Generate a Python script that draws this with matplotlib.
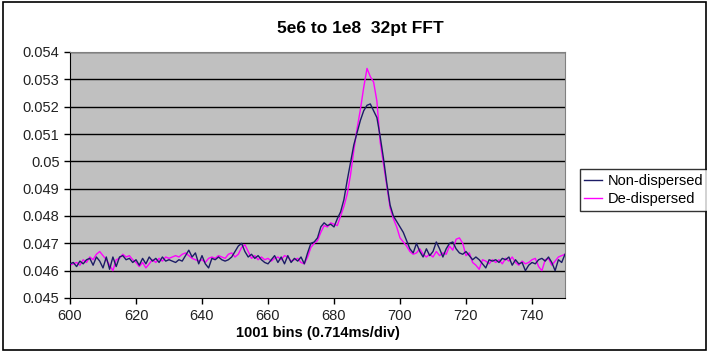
import matplotlib.pyplot as plt
from matplotlib.patches import Rectangle

plt.rcParams['font.family'] = ['Liberation Sans', 'DejaVu Sans']

bins = list(range(600, 751))

non_dispersed = [
    0.04625, 0.04630, 0.04615, 0.04635, 0.04625, 0.04640, 0.04645, 0.04620, 0.04650, 0.04635,
    0.04610, 0.04650, 0.04605, 0.04650, 0.04615, 0.04650, 0.04655, 0.04640, 0.04645, 0.04630,
    0.04640, 0.04620, 0.04645, 0.04625, 0.04650, 0.04635, 0.04645, 0.04630, 0.04650, 0.04635,
    0.04640, 0.04635, 0.04630, 0.04640, 0.04635, 0.04655, 0.04675, 0.04650, 0.04665, 0.04625,
    0.04655, 0.04625, 0.04610, 0.04645, 0.04640, 0.04650, 0.04640, 0.04635, 0.04640, 0.04650,
    0.04670, 0.04690, 0.04700, 0.04670, 0.04650, 0.04660, 0.04645, 0.04655, 0.04640, 0.04630,
    0.04625, 0.04640, 0.04655, 0.04630, 0.04650, 0.04625, 0.04655, 0.04630, 0.04645, 0.04635,
    0.04650, 0.04625, 0.04665, 0.04700, 0.04705, 0.04720, 0.04760, 0.04775, 0.04765, 0.04770,
    0.04760, 0.04790, 0.04815, 0.04860, 0.04930, 0.04995, 0.05060, 0.05105, 0.05150, 0.05185,
    0.05205, 0.05210, 0.05185, 0.05160, 0.05090, 0.05010, 0.04920, 0.04840, 0.04800, 0.04780,
    0.04760, 0.04740, 0.04710, 0.04680, 0.04665, 0.04700, 0.04670, 0.04650, 0.04680, 0.04655,
    0.04670, 0.04705, 0.04680, 0.04650, 0.04680, 0.04700, 0.04705, 0.04680, 0.04665, 0.04660,
    0.04670, 0.04655, 0.04640, 0.04650, 0.04640, 0.04625, 0.04610, 0.04640, 0.04635, 0.04640,
    0.04630, 0.04645, 0.04640, 0.04650, 0.04620, 0.04640, 0.04625, 0.04630, 0.04600, 0.04620,
    0.04630, 0.04625, 0.04640, 0.04645, 0.04635, 0.04650, 0.04630, 0.04600, 0.04640, 0.04630,
    0.04660,
]

de_dispersed = [
    0.04620, 0.04625, 0.04630, 0.04620, 0.04640, 0.04630, 0.04650, 0.04640, 0.04660, 0.04670,
    0.04655, 0.04640, 0.04620, 0.04600, 0.04640, 0.04645, 0.04660, 0.04650, 0.04655, 0.04640,
    0.04630, 0.04615, 0.04630, 0.04610, 0.04625, 0.04640, 0.04630, 0.04645, 0.04635, 0.04650,
    0.04645, 0.04650, 0.04655, 0.04650, 0.04660, 0.04665, 0.04655, 0.04645, 0.04640, 0.04635,
    0.04640, 0.04630, 0.04645, 0.04650, 0.04645, 0.04655, 0.04650, 0.04645, 0.04660, 0.04665,
    0.04650, 0.04660, 0.04685, 0.04695, 0.04670, 0.04645, 0.04655, 0.04640, 0.04650, 0.04640,
    0.04645, 0.04635, 0.04645, 0.04650, 0.04640, 0.04655, 0.04650, 0.04635, 0.04640, 0.04645,
    0.04630, 0.04625, 0.04650, 0.04685, 0.04700, 0.04710, 0.04740, 0.04765, 0.04760, 0.04775,
    0.04770, 0.04765, 0.04800, 0.04835, 0.04880, 0.04950, 0.05040, 0.05120, 0.05190, 0.05270,
    0.05340, 0.05310, 0.05290, 0.05220, 0.05070, 0.04990, 0.04910, 0.04830, 0.04790, 0.04760,
    0.04720, 0.04705, 0.04690, 0.04670, 0.04660, 0.04665, 0.04680, 0.04660, 0.04650, 0.04660,
    0.04650, 0.04670, 0.04655, 0.04665, 0.04660, 0.04690, 0.04675, 0.04715, 0.04720, 0.04700,
    0.04655, 0.04665, 0.04630, 0.04620, 0.04605, 0.04640, 0.04635, 0.04625, 0.04640, 0.04630,
    0.04640, 0.04625, 0.04645, 0.04635, 0.04650, 0.04630, 0.04620, 0.04635, 0.04625, 0.04630,
    0.04640, 0.04645, 0.04615, 0.04600, 0.04640, 0.04645, 0.04620, 0.04635, 0.04650, 0.04655,
    0.04660,
]

y_ticks = [0.045, 0.046, 0.047, 0.048, 0.049, 0.05, 0.051, 0.052, 0.053, 0.054]
x_ticks = [600, 620, 640, 660, 680, 700, 720, 740]

fig = plt.figure(figsize=(7.07, 3.54), dpi=100)
fig.patch.set_facecolor('white')
ax = fig.add_axes([70 / 707, 56 / 354, 495 / 707, 246 / 354])
ax.set_facecolor('#c0c0c0')

# horizontal gridlines, Excel style
for v in y_ticks[1:]:
    ax.axhline(v, color='black', lw=1.0, zorder=1)

ax.plot(bins, non_dispersed, color='#1c1c66', lw=1.0, label='Non-dispersed', zorder=3)
ax.plot(bins, de_dispersed, color='#ff00ff', lw=1.0, label='De-dispersed', zorder=2)

ax.set_xlim(600, 750)
ax.set_ylim(0.045, 0.054)
ax.set_xticks(x_ticks)
ax.set_yticks(y_ticks)
ax.set_yticklabels([f'{v:g}' for v in y_ticks])
ax.tick_params(axis='both', direction='out', length=4, width=1, labelsize=10.5,
               colors='black', labelcolor='#222222')
ax.tick_params(axis='x', pad=4)

for side in ['top', 'right']:
    ax.spines[side].set_color('#808080')
for side in ['left', 'bottom']:
    ax.spines[side].set_color('black')

fig.text(360 / 707, 1 - 28 / 354, '5e6 to 1e8  32pt FFT', fontsize=12.5,
         fontweight='bold', ha='center', va='center')
ax.set_xlabel('1001 bins (0.714ms/div)', fontsize=10.5, fontweight='bold', labelpad=2)

fig.legend(loc='center left', bbox_to_anchor=(580 / 707, 1 - 190 / 354), frameon=True,
           fancybox=False, edgecolor='black', fontsize=10.5, handlelength=1.2,
           handletextpad=0.4, borderpad=0.3, labelspacing=0.3, borderaxespad=0)

fig.patches.append(Rectangle((0.004, 0.01), 0.994, 0.985, transform=fig.transFigure,
                             fill=False, edgecolor='black', lw=1.2))

fig.savefig('out.png', dpi=100)
